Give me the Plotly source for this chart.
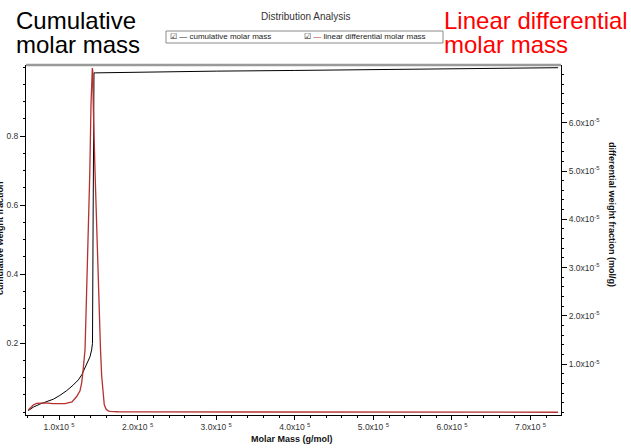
import plotly.graph_objects as go

# ---------------- data ----------------
cum_mass = [60900, 67300, 75800, 84000, 92700, 101000, 109800, 118000, 124600,
            129000, 133100, 136500, 139400, 141500, 142600, 143500, 144500,
            146700, 200000, 300000, 400000, 500000, 600000, 700000, 735000]
cum_frac = [0.004, 0.014, 0.023, 0.030, 0.037, 0.048, 0.062, 0.078, 0.093,
            0.108, 0.127, 0.145, 0.160, 0.180, 0.199, 0.600, 0.983,
            0.983, 0.985, 0.988, 0.990, 0.992, 0.994, 0.997, 0.998]

diff_mass = [60900, 64000, 67300, 71500, 75800, 82200, 92700, 102000, 107600,
             116500, 122500, 126700, 128900, 130500, 131800, 133100, 134300,
             135200, 137300, 139200, 140700, 141800, 142400, 143000, 143600,
             145800, 148200, 150600, 151500, 152800, 154300, 156000, 157600,
             159800, 162500, 165000, 175000, 200000, 300000, 400000, 500000,
             600000, 700000, 735000]
diff_frac = [0.05e-5, 0.10e-5, 0.155e-5, 0.19e-5, 0.20e-5, 0.20e-5, 0.185e-5,
             0.18e-5, 0.185e-5, 0.22e-5, 0.33e-5, 0.45e-5, 0.62e-5, 0.85e-5,
             1.05e-5, 1.30e-5, 2.0e-5, 2.54e-5, 3.63e-5, 4.98e-5, 6.37e-5,
             7.0e-5, 7.13e-5, 7.05e-5, 6.37e-5, 5.0e-5, 3.63e-5, 2.58e-5,
             2.0e-5, 1.3e-5, 0.75e-5, 0.33e-5, 0.16e-5, 0.07e-5, 0.035e-5,
             0.025e-5, 0.015e-5, 0.012e-5, 0.010e-5, 0.008e-5, 0.007e-5,
             0.006e-5, 0.005e-5, 0.005e-5]

x_tick_vals = [100000, 200000, 300000, 400000, 500000, 600000, 700000]
x_tick_text = ["1.0x10 <sup>5</sup>", "2.0x10 <sup>5</sup>", "3.0x10 <sup>5</sup>",
               "4.0x10 <sup>5</sup>", "5.0x10 <sup>5</sup>", "6.0x10 <sup>5</sup>",
               "7.0x10 <sup>5</sup>"]
y1_tick_vals = [0.2, 0.4, 0.6, 0.8]
y1_tick_text = ["0.2", "0.4", "0.6", "0.8"]
y2_tick_vals = [1e-5, 2e-5, 3e-5, 4e-5, 5e-5, 6e-5]
y2_tick_text = ["1.0x10<sup>-5</sup>", "2.0x10<sup>-5</sup>", "3.0x10<sup>-5</sup>",
                "4.0x10<sup>-5</sup>", "5.0x10<sup>-5</sup>", "6.0x10<sup>-5</sup>"]

# ---------------- layout geometry ----------------
W, H = 631, 448
L, R, T, B = 26, 70, 65, 33


def pxx(x):
    return (x - L) / (W - L - R)


def pxy(y):
    return (H - B - y) / (H - T - B)


RED = "#B5302F"
TICKFONT = dict(family="Liberation Sans, Arial", size=8.5, color="#333")

fig = go.Figure()
fig.add_trace(go.Scatter(x=cum_mass, y=cum_frac, mode="lines",
                         line=dict(color="black", width=1), yaxis="y",
                         showlegend=False, name="cumulative molar mass"))
fig.add_trace(go.Scatter(x=diff_mass, y=diff_frac, mode="lines",
                         line=dict(color=RED, width=1.3), yaxis="y2",
                         showlegend=False, name="linear differential molar mass"))

fig.update_layout(
    width=W, height=H,
    margin=dict(l=L, r=R, t=T, b=B, pad=0, autoexpand=False),
    paper_bgcolor="white", plot_bgcolor="white",
    showlegend=False,
    xaxis=dict(range=[58000, 738700], tickmode="array", tickvals=x_tick_vals,
               ticktext=x_tick_text, ticks="outside", ticklen=4, tickcolor="black",
               showline=True, linecolor="black", linewidth=1, showgrid=False,
               zeroline=False, tickfont=TICKFONT, automargin=False,
               minor=dict(tickmode="linear", tick0=0, dtick=20000, ticks="outside",
                          ticklen=2, tickcolor="black", showgrid=False)),
    yaxis=dict(range=[-0.0087, 1.0058], tickmode="array", tickvals=y1_tick_vals,
               ticktext=y1_tick_text, ticks="outside", ticklen=5, tickcolor="black",
               showline=True, linecolor="black", linewidth=1, showgrid=False,
               zeroline=False, tickfont=TICKFONT, automargin=False,
               minor=dict(tickmode="linear", tick0=0, dtick=0.05, ticks="outside",
                          ticklen=2, tickcolor="black", showgrid=False)),
    yaxis2=dict(range=[-0.052e-5, 7.195e-5], overlaying="y", side="right",
                tickmode="array", tickvals=y2_tick_vals, ticktext=y2_tick_text,
                ticks="outside", ticklen=5, tickcolor="black", showline=True,
                linecolor="black", linewidth=1, showgrid=False, zeroline=False,
                tickfont=TICKFONT, automargin=False,
                minor=dict(tickmode="linear", tick0=0, dtick=0.2e-5, ticks="outside",
                           ticklen=2, tickcolor="black", showgrid=False)),
)

# top frame (grey)
fig.add_shape(type="line", xref="paper", yref="paper", x0=0, x1=1, y0=1, y1=1,
              line=dict(color="#9a9a9a", width=2.5))

# legend box
fig.add_shape(type="rect", xref="paper", yref="paper",
              x0=pxx(166), x1=pxx(443), y0=pxy(43), y1=pxy(31),
              line=dict(color="#8a8a8a", width=1), fillcolor="white")

ann = []
BIG = dict(family="Liberation Sans, Arial", size=24)
ann.append(dict(text="Cumulative", x=pxx(14), y=pxy(20), xanchor="left", yanchor="middle",
                font=dict(color="black", **BIG)))
ann.append(dict(text="molar mass", x=pxx(14), y=pxy(45), xanchor="left", yanchor="middle",
                font=dict(color="black", **BIG)))
ann.append(dict(text="Linear differential", x=pxx(442), y=pxy(20), xanchor="left",
                yanchor="middle", font=dict(color="#FF0000", **BIG)))
ann.append(dict(text="molar mass", x=pxx(442), y=pxy(45), xanchor="left",
                yanchor="middle", font=dict(color="#FF0000", **BIG)))
ann.append(dict(text="Distribution Analysis", x=pxx(305), y=pxy(17), xanchor="center",
                yanchor="middle",
                font=dict(family="Liberation Sans, Arial", size=10, color="#333")))
ann.append(dict(text="☑ — cumulative molar mass", x=pxx(168), y=pxy(37),
                xanchor="left", yanchor="middle",
                font=dict(family="Liberation Sans, Arial", size=8, color="#222")))
ann.append(dict(text="☑ <span style='color:" + RED + "'>—</span> linear differential molar mass",
                x=pxx(302), y=pxy(37), xanchor="left", yanchor="middle",
                font=dict(family="Liberation Sans, Arial", size=8, color="#222")))
ann.append(dict(text="<b>Molar Mass (g/mol)</b>", x=pxx(292), y=pxy(439),
                xanchor="center", yanchor="middle",
                font=dict(family="Liberation Sans, Arial", size=9, color="#111")))
ann.append(dict(text="<b>differential weight fraction (mol/g)</b>", x=pxx(612),
                y=pxy(214), xanchor="center", yanchor="middle", textangle=90,
                font=dict(family="Liberation Sans, Arial", size=9, color="#111")))
ann.append(dict(text="<b>cumulative weight fraction</b>", x=pxx(0), y=pxy(238),
                xanchor="center", yanchor="middle", textangle=-90,
                font=dict(family="Liberation Sans, Arial", size=9, color="#111")))
for a in ann:
    a.update(xref="paper", yref="paper", showarrow=False)
fig.update_layout(annotations=ann)

fig.write_html("out.html", config={"displayModeBar": False},
               post_script="document.body.style.margin='0';document.body.style.overflow='hidden';")
